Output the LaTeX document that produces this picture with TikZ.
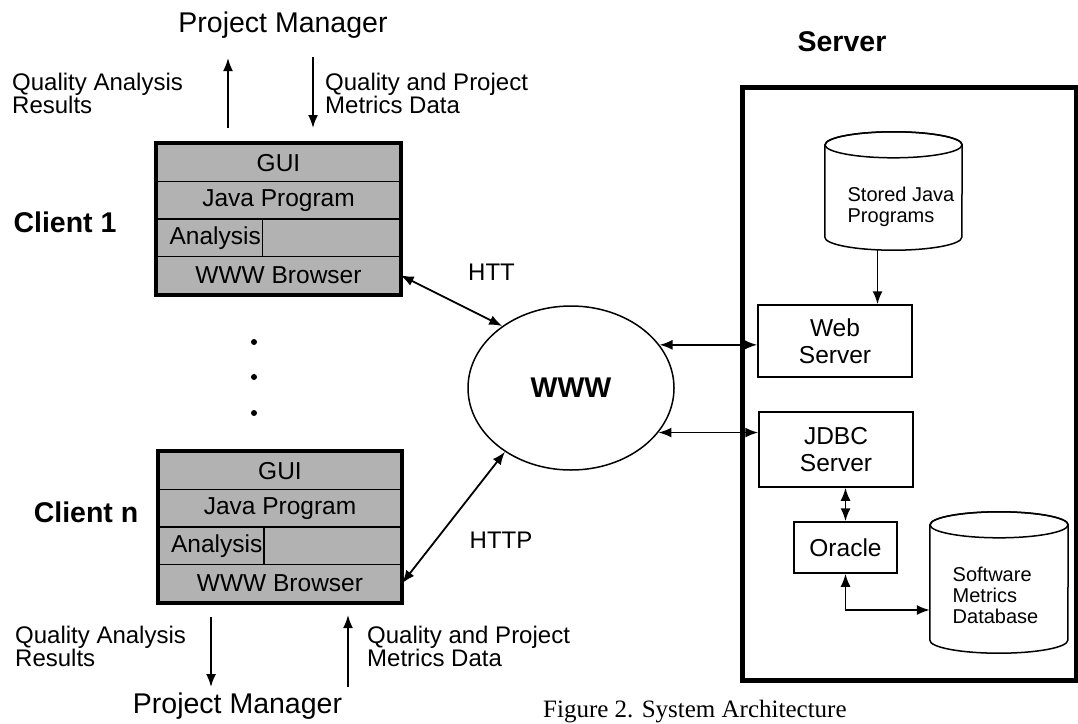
\documentclass[tikz,border=0pt]{standalone}
\usepackage{fontspec}
\setmainfont{Liberation Sans}
\newfontfamily\capfont{Liberation Serif}
\usetikzlibrary{shapes.geometric,arrows.meta}
\tikzset{
  layer/.style = {draw, line width=1.2pt, fill=black!30, minimum width=243pt, minimum height=37.5pt, inner sep=0pt, font=\fontsize{24.5}{26}\selectfont},
  layertext/.style = {anchor=west, inner sep=0pt, font=\fontsize{24.5}{26}\selectfont},
  frame/.style = {draw, line width=4pt},
  title/.style = {font=\fontsize{28.5}{30}\selectfont},
  bigbold/.style = {font=\fontsize{28.5}{30}\selectfont\bfseries},
  note/.style = {align=left, inner sep=0pt, font=\fontsize{24}{23}\selectfont},
  srvbox/.style = {draw, line width=1.5pt, align=center, font=\fontsize{24.5}{27}\selectfont},
  db/.style = {inner sep=0pt},
  dbline/.style = {line width=1.5pt},
  dbtext/.style = {align=left, inner sep=0pt, font=\fontsize{20}{21}\selectfont},
  flow/.style = {-{Latex[length=13pt,width=10pt]}, line width=1.8pt},
  both/.style = {{Latex[length=13pt,width=10pt]}-{Latex[length=13pt,width=10pt]}, line width=1.8pt},
  dot/.style = {circle, fill, inner sep=0pt, minimum size=6pt}
}

\begin{document}
\begin{tikzpicture}[x=1pt, y=-1pt]
\useasboundingbox (0,0) rectangle (1078,723);
% client 1
\node[title] (pmtop) at (283,25) {Project Manager};
\node[note, anchor=west] (resultstop) at (12,93) {Quality Analysis\\Results};
\node[note, anchor=west] (datatop) at (325,93) {Quality and Project\\Metrics Data};
\coordinate (uptail1) at (228,128);
\coordinate (uphead1) at (228,58);
\draw[flow] (uptail1) -- (uphead1);
\coordinate (downtail1) at (313,57);
\coordinate (downhead1) at (313,128);
\draw[flow] (downtail1) -- (downhead1);
\node[bigbold] (client1) at (65,222) {Client 1};
\node[layer] (gui1) at (278.5,162.75) {GUI};
\node[layer] (java1) at (278.5,200.25) {Java Program};
\node[layer] (ana1) at (278.5,237.75) {};
\node[layertext] (analbl1) at ([xshift=13pt]ana1.west) {Analysis};
\draw[line width=1.2pt] ([xshift=106pt]ana1.north west) -- ([xshift=106pt]ana1.south west);
\node[layer] (www1) at (278.5,275.25) {WWW Browser};
\draw[frame] (gui1.north west) rectangle (www1.south east);

\node[dot] (dota) at (254,342) {};
\node[dot] (dotb) at (254,377) {};
\node[dot] (dotc) at (254,413) {};

% client n
\node[bigbold] (clientn) at (86,512) {Client n};
\node[layer] (guin) at (280,470.75) {GUI};
\node[layer] (javan) at (280,508.25) {Java Program};
\node[layer] (anan) at (280,545.75) {};
\node[layertext] (analbln) at ([xshift=13pt]anan.west) {Analysis};
\draw[line width=1.2pt] ([xshift=106pt]anan.north west) -- ([xshift=106pt]anan.south west);
\node[layer] (wwwn) at (280,583.25) {WWW Browser};
\draw[frame] (guin.north west) rectangle (wwwn.south east);
\node[note, anchor=west] (resultsbot) at (15,646) {Quality Analysis\\Results};
\node[note, anchor=west] (databot) at (367,646) {Quality and Project\\Metrics Data};
\coordinate (downtailn) at (211,617);
\coordinate (downheadn) at (211,687);
\draw[flow] (downtailn) -- (downheadn);
\coordinate (uptailn) at (348,687);
\coordinate (upheadn) at (348,615);
\draw[flow] (uptailn) -- (upheadn);
\node[title] (pmbot) at (237.5,706) {Project Manager};

% www
\node[draw, ellipse, line width=1.5pt, minimum width=206pt, minimum height=164pt, bigbold] (wwwcloud) at (571,388) {WWW};
\node[note] (htt) at (491.5,272) {HTT};
\node[note] (http) at (501,540) {HTTP};
\draw[both] (www1.east) -- (wwwcloud.138);
\draw[both] (wwwn.east) -- (wwwcloud.224);

% server
\node[bigbold] (srvtitle) at (842,42) {Server};
\node[draw, line width=5pt, minimum width=334pt, minimum height=593pt] (srvframe) at (909,383.5) {};
\node[db, minimum width=137pt, minimum height=118pt, label={[dbtext, xshift=7.5pt, yshift=-16pt]center:Stored Java\\Programs}] (javastore) at (893.5,191) {};
\draw[dbline] ([yshift=-13pt]javastore.north west) -- ([yshift=13pt]javastore.south west)
  arc[start angle=180, end angle=360, x radius=68.5pt, y radius=13pt]
  -- ([yshift=-13pt]javastore.north east)
  arc[start angle=0, end angle=180, x radius=68.5pt, y radius=13pt];
\draw[dbline] ([yshift=-13pt]javastore.north) ellipse[x radius=68.5pt, y radius=13pt];
\node[srvbox, minimum width=154pt, minimum height=72pt] (websrv) at (835,341) {Web\\Server};
\node[srvbox, minimum width=154pt, minimum height=75pt] (jdbc) at (836,449.5) {JDBC\\Server};
\node[srvbox, minimum width=103pt, minimum height=51pt] (oracle) at (845.5,547.5) {Oracle};
\node[db, minimum width=138pt, minimum height=141pt, label={[dbtext, xshift=-3.5pt, yshift=-12.5pt]center:Software\\Metrics\\Database}] (swdb) at (999,582.5) {};
\draw[dbline] ([yshift=-13pt]swdb.north west) -- ([yshift=13pt]swdb.south west)
  arc[start angle=180, end angle=360, x radius=69pt, y radius=13pt]
  -- ([yshift=-13pt]swdb.north east)
  arc[start angle=0, end angle=180, x radius=69pt, y radius=13pt];
\draw[dbline] ([yshift=-13pt]swdb.north) ellipse[x radius=69pt, y radius=13pt];
\draw[flow] ([xshift=-16pt]javastore.south) -- ([xshift=-16pt]javastore.south |- websrv.north);
\draw[both] (wwwcloud.26) -- (wwwcloud.26 -| websrv.west);
\draw[both] (wwwcloud.-27) -- (wwwcloud.-27 -| jdbc.west);
\draw[both] (oracle.north) -- (oracle.north |- jdbc.south);
\draw[both] (oracle.south) |- ([yshift=-27.5pt]swdb.west);

\node[anchor=base west, inner sep=0pt, font=\capfont\fontsize{25}{25}\selectfont] (caption) at (543,717) {Figure 2. System Architecture};
\end{tikzpicture}
\end{document}
